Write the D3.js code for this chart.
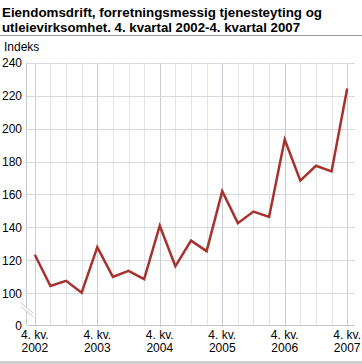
<!DOCTYPE html>
<html>
<head>
<meta charset="utf-8">
<script src="https://cdn.jsdelivr.net/npm/d3@7"></script>
<style>
  body { margin: 0; background: #fff; }
  svg { display: block; font-family: "Liberation Sans", Arial, sans-serif; }
</style>
</head>
<body>
<svg width="362" height="364"></svg>
<script>
// quarters 4. kv. 2002 .. 4. kv. 2007
const quarters = ["2002K4","2003K1","2003K2","2003K3","2003K4","2004K1","2004K2","2004K3","2004K4",
  "2005K1","2005K2","2005K3","2005K4","2006K1","2006K2","2006K3","2006K4","2007K1","2007K2","2007K3","2007K4"];
const indeks = [123.4, 104.4, 107.6, 100.4, 128, 110, 113.6, 108.6, 141, 116.4, 132, 125.6,
  162, 142.6, 149.6, 146.4, 193.4, 168.4, 177.4, 174, 224.4];
const yTicks = [0, 100, 120, 140, 160, 180, 200, 220, 240];
const yearTicks = ["2002K4","2003K4","2004K4","2005K4","2006K4","2007K4"];

const svg = d3.select("svg");
const left = 27, right = 355;

// title
const title = svg.append("g").attr("font-weight", "bold").attr("font-size", 13.6).attr("fill", "#000");
title.append("text").attr("x", 2).attr("y", 17).attr("textLength", 320).attr("lengthAdjust", "spacingAndGlyphs")
  .text("Eiendomsdrift, forretningsmessig tjenesteyting og");
title.append("text").attr("x", 2).attr("y", 32).attr("textLength", 298).attr("lengthAdjust", "spacingAndGlyphs")
  .text("utleievirksomhet. 4. kvartal 2002-4. kvartal 2007");
svg.append("line").attr("x1", 0).attr("x2", 362).attr("y1", 35.5).attr("y2", 35.5)
  .attr("stroke", "#9a9a9a").attr("stroke-width", 1);

svg.append("text").attr("x", 4).attr("y", 51).attr("font-size", 12).text("Indeks");

const x = d3.scaleBand().domain(quarters).range([left, right]);
const xc = d => x(d) + x.bandwidth() / 2;
// broken axis: 0 sits one step below 100
const y = d3.scaleLinear().domain([0, 100, 240]).range([325, 293.3, 62.7]);

// vertical grid
svg.append("g").selectAll("line").data(quarters).join("line")
  .attr("x1", d => Math.round(xc(d)) + 0.5).attr("x2", d => Math.round(xc(d)) + 0.5)
  .attr("y1", y(240)).attr("y2", d => yearTicks.includes(d) ? 327 : y(0))
  .attr("stroke", d => yearTicks.includes(d) ? "#c9ccd4" : "#e2e4ea").attr("stroke-width", 1);

// horizontal grid
svg.append("g").selectAll("line").data(yTicks.filter(t => t > 0)).join("line")
  .attr("x1", left).attr("x2", right)
  .attr("y1", d => Math.round(y(d)) + 0.5).attr("y2", d => Math.round(y(d)) + 0.5)
  .attr("stroke", "#d6d8df");

// axes lines
svg.append("line").attr("x1", left).attr("x2", right)
  .attr("y1", Math.round(y(0)) + 0.5).attr("y2", Math.round(y(0)) + 0.5).attr("stroke", "#c4c7ce");
svg.append("line").attr("x1", left - 0.5).attr("x2", left - 0.5)
  .attr("y1", y(240)).attr("y2", y(0)).attr("stroke", "#c4c7ce");

// axis break
svg.append("polygon").attr("points", "20,303 34,314 34,317 20,306").attr("fill", "#fff");
svg.append("g").selectAll("line").data([0, 3.5]).join("line")
  .attr("x1", 21).attr("y1", d => 303 + d).attr("x2", 33).attr("y2", d => 313 + d)
  .attr("stroke", "#c4c7ce").attr("stroke-width", 1);

// y labels
svg.append("g").attr("font-size", 12).attr("text-anchor", "end")
  .selectAll("text").data(yTicks).join("text")
  .attr("x", 22).attr("y", d => y(d) + 4.5).text(d => d);

// x labels
const xl = svg.append("g").attr("font-size", 12).attr("text-anchor", "middle")
  .selectAll("g").data(yearTicks).join("g");
xl.append("text").attr("x", xc).attr("y", 339).text("4. kv.");
xl.append("text").attr("x", xc).attr("y", 352).text(d => d.slice(0, 4));

// line
const line = d3.line().x((d, i) => xc(quarters[i])).y(d => y(d));
svg.append("path").datum(indeks).attr("d", line)
  .attr("fill", "none").attr("stroke", "#a7312c").attr("stroke-width", 2.5)
  .attr("stroke-linejoin", "miter");

// bottom bar
svg.append("rect").attr("x", 0).attr("y", 361).attr("width", 362).attr("height", 3).attr("fill", "#cfcfcf");
</script>
</body>
</html>
